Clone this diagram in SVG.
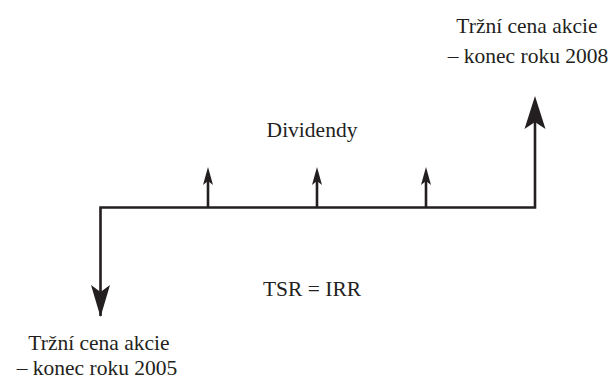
<svg xmlns="http://www.w3.org/2000/svg" width="616" height="381" viewBox="0 0 616 381">
<style>
.t{font-family:"Liberation Serif","Times New Roman",serif;font-size:21.5px;fill:#231f20;text-anchor:middle}
.l{stroke:#231f20;stroke-width:2.6;fill:none}
.h{fill:#231f20}
</style>
<rect width="616" height="381" fill="#fff"/>
<g id="connectors">
<path class="l" d="M100.5,316 V207.5 H535 V110"/>
<path class="h" d="M100.5,317 L91,285 L100.5,292 L110,285 Z"/>
<path class="h" d="M535,96 L524.5,129 L535,122 L545.5,129 Z"/>
<path class="l" d="M208,207.5 V180"/>
<path class="h" d="M208,167 L203,185 L208,181 L213,185 Z"/>
<path class="l" d="M317,207.5 V180"/>
<path class="h" d="M317,167 L312,185 L317,181 L322,185 Z"/>
<path class="l" d="M426,207.5 V180"/>
<path class="h" d="M426,167 L421,185 L426,181 L431,185 Z"/>
</g>
<g id="price2008">
<text class="t" x="527" y="33">Tržní cena akcie</text>
<text class="t" x="528" y="63">– konec roku 2008</text>
</g>
<g id="dividends"><text class="t" x="312" y="137">Dividendy</text></g>
<g id="tsr"><text class="t" x="312" y="296">TSR = IRR</text></g>
<g id="price2005">
<text class="t" x="99" y="350">Tržní cena akcie</text>
<text class="t" x="97" y="375">– konec roku 2005</text>
</g>
</svg>
